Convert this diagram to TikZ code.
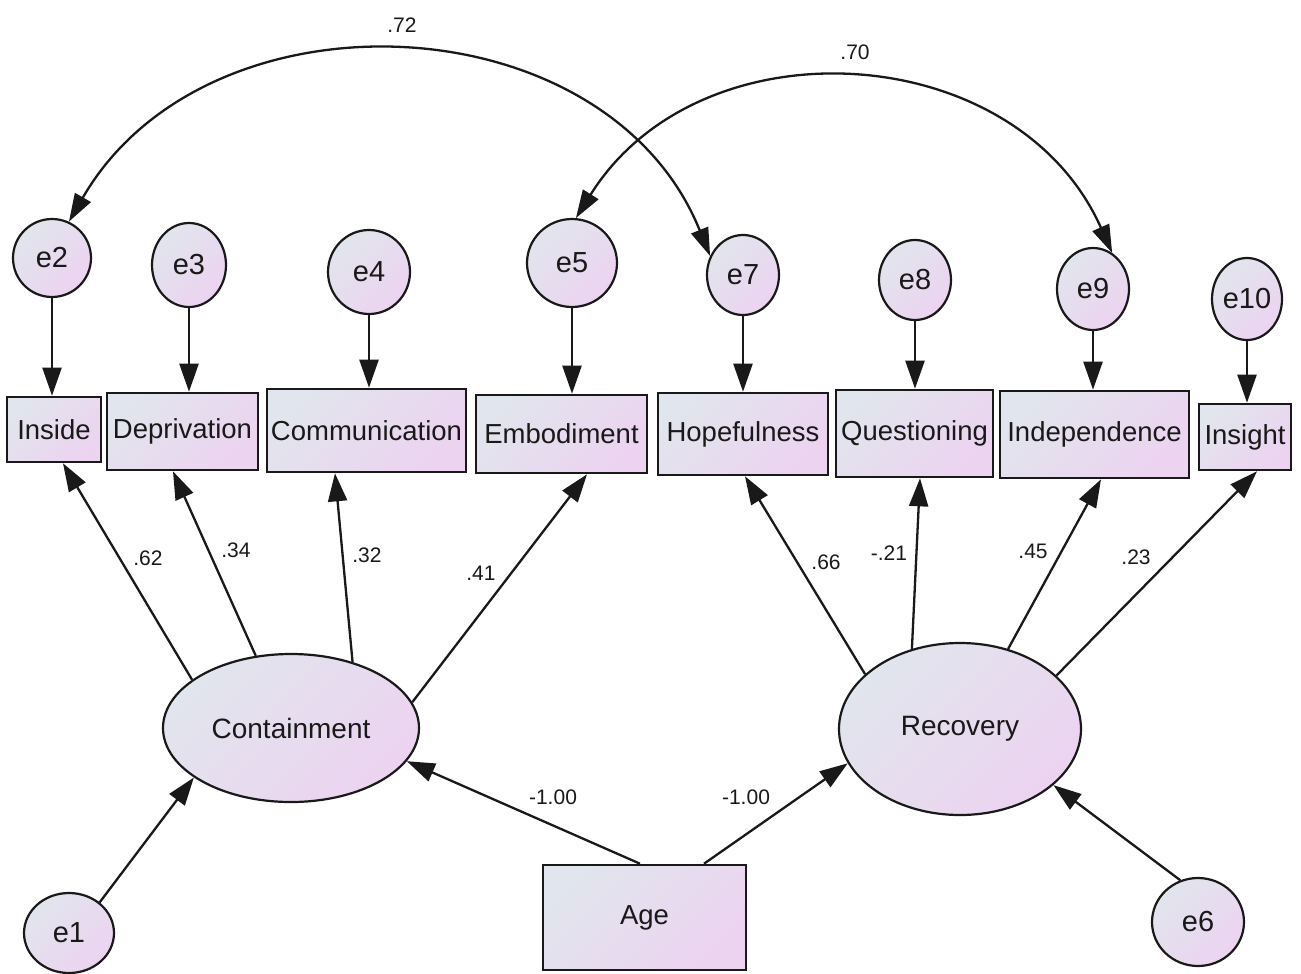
\documentclass[tikz,border=0pt]{standalone}
\usepackage{fontspec}
\setmainfont{Liberation Sans}
\usetikzlibrary{arrows.meta,shapes.geometric}
\definecolor{shadeA}{RGB}{225,229,237}
\definecolor{shadeB}{RGB}{236,211,240}
\definecolor{ink}{RGB}{25,25,25}
\begin{document}
\begin{tikzpicture}[x=1pt,y=1pt,
  grad/.style={top color=shadeA, bottom color=shadeB, shading angle=45},
  obs/.style={rectangle, draw=ink, line width=2.6pt, grad, inner sep=0pt,
    font=\fontsize{27.5}{30}\selectfont, text=ink},
  lat/.style={ellipse, draw=ink, line width=2.2pt, grad, inner sep=0pt,
    font=\fontsize{28}{30}\selectfont, text=ink},
  err/.style={ellipse, draw=ink, line width=2.2pt, grad, inner sep=0pt,
    font=\fontsize{29}{30}\selectfont, text=ink},
  num/.style={inner sep=0pt, font=\fontsize{21}{24}\selectfont, text=ink},
  conn/.style={line width=2.3pt, draw=ink, -{Triangle[length=28pt,width=19pt]}},
  cov/.style={line width=2.3pt, draw=ink,
    {Triangle[length=28pt,width=18pt]}-{Triangle[length=28pt,width=18pt]}},
]
\fill[white] (0,0) rectangle (1301,-974);
\useasboundingbox (0,0) rectangle (1301,-974);

% observed indicators
\node[obs, minimum width=94pt,  minimum height=65pt] (ins)  at (54,-429.5)   {Inside};
\node[obs, minimum width=151pt, minimum height=77pt] (dep)  at (182.5,-431.5) {Deprivation};
\node[obs, minimum width=199pt, minimum height=83pt] (com)  at (366.5,-430.5) {Communication};
\node[obs, minimum width=171pt, minimum height=78pt] (emb)  at (561.5,-434)   {Embodiment};
\node[obs, minimum width=170pt, minimum height=82pt] (hop)  at (743,-434)     {Hopefulness};
\node[obs, minimum width=157pt, minimum height=87pt] (que)  at (914.5,-433.5) {Questioning};
\node[obs, minimum width=189pt, minimum height=87pt] (ind)  at (1094.5,-434.5) {Independence};
\node[obs, minimum width=92pt,  minimum height=66pt] (insg) at (1245,-437)    {Insight};
\node[obs, minimum width=203pt, minimum height=105pt] (age) at (644.5,-917.5) {Age};

% latent factors
\node[lat, minimum width=256pt, minimum height=148pt] (cont) at (291,-728) {Containment};
\node[lat, minimum width=242pt, minimum height=172pt] (rec)  at (960,-729) {Recovery};

% error terms
\node[err, minimum width=78pt, minimum height=78pt] (e2)  at (52,-258)   {e2};
\node[err, minimum width=74pt, minimum height=84pt] (e3)  at (189,-265)  {e3};
\node[err, minimum width=82pt, minimum height=84pt] (e4)  at (369,-272)  {e4};
\node[err, minimum width=90pt, minimum height=88pt] (e5)  at (572,-263)  {e5};
\node[err, minimum width=72pt, minimum height=80pt] (e7)  at (743,-275)  {e7};
\node[err, minimum width=72pt, minimum height=80pt] (e8)  at (915,-280)  {e8};
\node[err, minimum width=72pt, minimum height=82pt] (e9)  at (1093,-289) {e9};
\node[err, minimum width=70pt, minimum height=82pt] (e10) at (1247,-299) {e10};
\node[err, minimum width=90pt, minimum height=80pt] (e1)  at (69,-933)   {e1};
\node[err, minimum width=92pt, minimum height=88pt] (e6)  at (1198,-922) {e6};

% errors into indicators
\foreach \e/\b in {e2/ins, e3/dep, e4/com, e5/emb, e7/hop, e8/que, e9/ind, e10/insg}
  \draw[conn] (\e.south) -- (\e.south |- \b.north);

% loadings of Containment
\draw[conn] (cont.154) -- ([xshift=9pt]ins.south);
\draw[conn] (cont.116) -- ([xshift=-9.5pt]dep.south);
\draw[conn] (cont.47)  -- ([xshift=-31.5pt]com.south);
\draw[conn] (cont.12)  -- ([xshift=25.5pt]emb.south);

% loadings of Recovery
\draw[conn] (rec.150) -- ([xshift=2pt]hop.south);
\draw[conn] (rec.121) -- ([xshift=5.5pt]que.south);
\draw[conn] (rec.59)  -- ([xshift=6.5pt]ind.south);
\draw[conn] (rec.29)  -- ([xshift=12pt]insg.south);

% structural paths and disturbances
\draw[conn] ([xshift=-4.5pt]age.north) -- (cont.-16);
\draw[conn] ([xshift=59.5pt]age.north) -- (rec.-163);
\draw[conn] (e1.45)  -- (cont.207);
\draw[conn] (e6.113) -- (rec.-31);

% error covariances
\draw[cov] (e2.65) to[out=60,in=112,looseness=1.1] (e7.150);
\draw[cov] (e5.85) to[out=58,in=114,looseness=1.12] (e9.62);

% estimates
\node[num] (n72)  at (402,-25)  {.72};
\node[num] (n70)  at (855,-52)  {.70};
\node[num] (n62)  at (148,-558) {.62};
\node[num] (n34)  at (236,-550) {.34};
\node[num] (n32)  at (367,-555) {.32};
\node[num] (n41)  at (481,-573) {.41};
\node[num] (n66)  at (826,-562) {.66};
\node[num] (n21)  at (889,-553) {-.21};
\node[num] (n45)  at (1033,-551) {.45};
\node[num] (n23)  at (1136,-557) {.23};
\node[num] (nac)  at (553,-797) {-1.00};
\node[num] (nar)  at (746,-797) {-1.00};
\end{tikzpicture}
\end{document}
